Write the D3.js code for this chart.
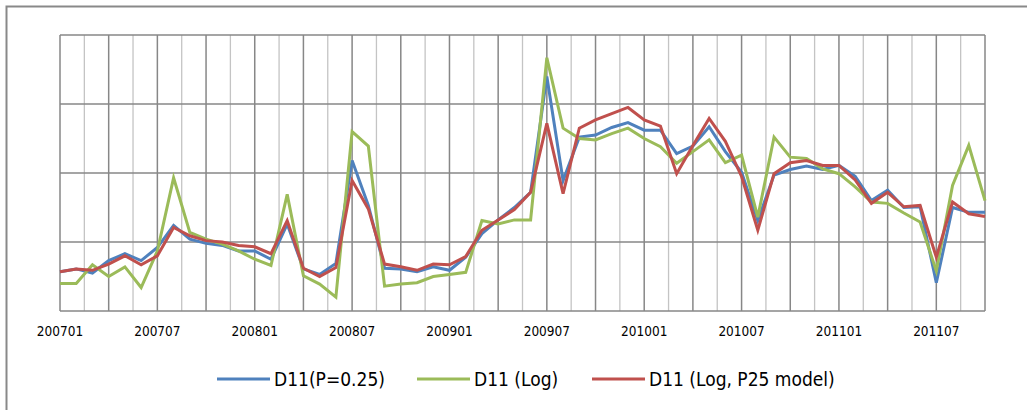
<!DOCTYPE html>
<html>
<head>
<meta charset="utf-8">
<script src="https://cdn.jsdelivr.net/npm/d3@7"></script>
<style>
  body { margin: 0; background: #fff; }
  svg { display: block; font-family: "DejaVu Sans Condensed", "Liberation Sans Narrow", sans-serif; }
</style>
</head>
<body>
<div id="container"></div>
<script>
width = 1027;
height = 410;

// months 200701 .. 201110
months = d3.range(58).map(i => {
    const y = 2007 + Math.floor(i / 12), m = i % 12 + 1;
    return "" + y + (m < 10 ? "0" : "") + m;
});
tickLabels = ["200701", "200707", "200801", "200807", "200901", "200907", "201001", "201007", "201101", "201107"];

// values read in gridline units (no y labels on the original)
seriesNames = ["D11(P=0.25)", "D11 (Log)", "D11 (Log, P25 model)"];
blue = [0.57, 0.61, 0.55, 0.73, 0.83, 0.73, 0.92, 1.24, 1.04, 0.98, 0.95, 0.87, 0.87, 0.75, 1.26, 0.61, 0.53, 0.69,
    2.18, 1.53, 0.62, 0.61, 0.57, 0.64, 0.59, 0.78, 1.12, 1.32, 1.50, 1.72, 3.40, 1.89, 2.52, 2.55, 2.66, 2.73, 2.62, 2.62,
    2.28, 2.39, 2.67, 2.31, 2.01, 1.31, 1.97, 2.05, 2.10, 2.05, 2.11, 1.95, 1.60, 1.75, 1.50, 1.51, 0.41, 1.50, 1.43, 1.43];
green = [0.40, 0.40, 0.67, 0.50, 0.64, 0.34, 0.87, 1.93, 1.14, 1.04, 0.97, 0.87, 0.75, 0.66, 1.69, 0.51, 0.39, 0.20,
    2.60, 2.39, 0.36, 0.39, 0.41, 0.50, 0.53, 0.56, 1.31, 1.26, 1.32, 1.32, 3.67, 2.65, 2.50, 2.48, 2.57, 2.65, 2.50, 2.38,
    2.14, 2.31, 2.48, 2.15, 2.26, 1.36, 2.52, 2.23, 2.21, 2.06, 1.99, 1.80, 1.58, 1.56, 1.42, 1.29, 0.58, 1.82, 2.40, 1.60];
red = [0.57, 0.61, 0.59, 0.68, 0.80, 0.67, 0.80, 1.21, 1.09, 1.02, 1.00, 0.95, 0.93, 0.83, 1.31, 0.62, 0.50, 0.63,
    1.89, 1.48, 0.68, 0.64, 0.59, 0.68, 0.67, 0.79, 1.17, 1.32, 1.47, 1.72, 2.72, 1.70, 2.65, 2.77, 2.86, 2.95, 2.77, 2.68,
    1.99, 2.40, 2.79, 2.46, 1.95, 1.17, 1.99, 2.15, 2.18, 2.11, 2.11, 1.90, 1.56, 1.72, 1.51, 1.53, 0.78, 1.58, 1.41, 1.37];
colors = ["#4F81BD", "#9BBB59", "#C0504D"];

const series = [blue, green, red];

const margin = {left: 60, right: 42, top: 35, bottom: 99};
const x = d3.scaleLinear().domain([0, months.length - 1]).range([margin.left, width - margin.right]);
const y = d3.scaleLinear().domain([0, 4]).range([height - margin.bottom, margin.top]);

const svg = d3.select("#container").append("svg")
    .attr("width", width)
    .attr("height", height);

// outer chart frame (only top/left visible in the crop)
svg.append("rect")
    .attr("x", 6.5).attr("y", 6.5)
    .attr("width", width + 20).attr("height", height + 20)
    .attr("fill", "none").attr("stroke", "#898989").attr("stroke-width", 2);

// minor vertical gridlines
const minor = d3.range(1.5, months.length - 1, 3);
svg.append("g").selectAll("line").data(minor).join("line")
    .attr("x1", d => x(d)).attr("x2", d => x(d))
    .attr("y1", y(4)).attr("y2", y(0))
    .attr("stroke", "#c4c4c4").attr("stroke-width", 1.3);

// major vertical gridlines
const major = d3.range(0, months.length, 3);
svg.append("g").selectAll("line").data(major).join("line")
    .attr("x1", d => x(d)).attr("x2", d => x(d))
    .attr("y1", y(4)).attr("y2", y(0))
    .attr("stroke", "#878787").attr("stroke-width", 1.5);

// horizontal gridlines
svg.append("g").selectAll("line").data(y.ticks(4)).join("line")
    .attr("x1", x(0)).attr("x2", x(months.length - 1))
    .attr("y1", d => y(d)).attr("y2", d => y(d))
    .attr("stroke", "#878787").attr("stroke-width", 1.5);

// x labels
svg.append("g").selectAll("text").data(tickLabels).join("text")
    .attr("x", d => x(months.indexOf(d)))
    .attr("y", y(0) + 25)
    .attr("text-anchor", "middle")
    .attr("font-size", 13.5)
    .attr("fill", "#000")
    .text(d => d);

const line = d3.line()
    .x((d, i) => x(i))
    .y(d => y(d));

svg.append("g").selectAll("path").data(series).join("path")
    .attr("d", d => line(d))
    .attr("fill", "none")
    .attr("stroke", (d, i) => colors[i])
    .attr("stroke-width", 3)
    .attr("stroke-linejoin", "miter");

// legend
const legendX = [217, 417, 592];
const lg = svg.append("g").selectAll("g").data(seriesNames).join("g")
    .attr("transform", (d, i) => `translate(${legendX[i]},379)`);
lg.append("line")
    .attr("x1", 0).attr("x2", 53)
    .attr("stroke", (d, i) => colors[i])
    .attr("stroke-width", 3);
lg.append("text")
    .attr("x", 57)
    .attr("dy", "0.35em")
    .attr("font-size", 19)
    .attr("fill", "#000")
    .text(d => d);
</script>
</body>
</html>
